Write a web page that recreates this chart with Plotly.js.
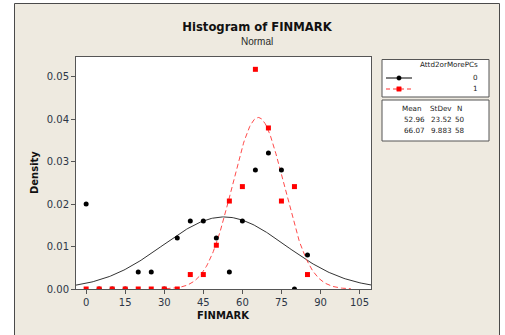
<!DOCTYPE html>
<html>
<head>
<meta charset="utf-8">
<script src="https://cdn.plot.ly/plotly-3.0.1.min.js"></script>
<style>
  html, body { margin: 0; padding: 0; background: #ffffff; }
  #chart { width: 505px; height: 335px; }
</style>
</head>
<body>
<div id="chart"></div>
<script>
// FINMARK density by bin midpoint, split by Attd2orMorePCs
const binMid = [0, 5, 10, 15, 20, 25, 30, 35, 40, 45, 50, 55, 60, 65, 70, 75, 80, 85];
const density0 = [0.020, 0, 0, 0, 0.004, 0.004, 0, 0.012, 0.016, 0.016, 0.012, 0.004, 0.016, 0.028, 0.032, 0.028, 0, 0.008];
const density1 = [0, 0, 0, 0, 0, 0, 0, 0, 0.0034, 0.0034, 0.0103, 0.0207, 0.0241, 0.0517, 0.0379, 0.0207, 0.0241, 0.0034];

// Fitted normal parameters per group
const groups = ["0", "1"];
const means = [52.96, 66.07];
const stdevs = [23.52, 9.883];
const counts = [50, 58];

const xTicks = [0, 15, 30, 45, 60, 75, 90, 105];
const yTicks = [0.00, 0.01, 0.02, 0.03, 0.04, 0.05];

const xRange = [-3.9, 109.4];
const yRange = [0, 0.0546];

// Normal density curve sampled across the axis
function normalCurve(mu, sd, lo, hi) {
  const a = Math.max(lo, mu - 3.6 * sd), b = Math.min(hi, mu + 3.6 * sd);
  const xs = [], ys = [];
  const n = 240;
  for (let i = 0; i <= n; i++) {
    const x = a + (b - a) * i / n;
    const z = (x - mu) / sd;
    xs.push(x);
    ys.push(Math.exp(-0.5 * z * z) / (sd * Math.sqrt(2 * Math.PI)));
  }
  return { x: xs, y: ys };
}

const c0 = normalCurve(means[0], stdevs[0], xRange[0], xRange[1]);
const c1 = normalCurve(means[1], stdevs[1], xRange[0], xRange[1]);

const traces = [
  { x: c0.x, y: c0.y, mode: "lines", line: { color: "#333333", width: 1 }, hoverinfo: "skip" },
  { x: c1.x, y: c1.y, mode: "lines", line: { color: "#ff4a4a", width: 1, dash: "5px,3px" }, hoverinfo: "skip" },
  { x: binMid, y: density0, mode: "markers", marker: { color: "#000000", size: 5, symbol: "circle" } },
  { x: binMid, y: density1, mode: "markers", marker: { color: "#ff0000", size: 5, symbol: "square" } }
];

// Plot-area geometry in pixels
const L = 76, T = 57, R = 134, B = 46, W = 505 - L - R, H = 335 - T - B;
const px = X => (X - L) / W;
const py = Y => (335 - B - Y) / H;

const shapes = [
  // outer frame
  { type: "rect", xref: "paper", yref: "paper", layer: "below",
    x0: px(14.5), x1: px(499.5), y0: py(340), y1: py(3.5),
    fillcolor: "#eeeae0", line: { color: "#4a4a4a", width: 1 } },
  // plot area
  { type: "rect", xref: "paper", yref: "paper", layer: "below",
    x0: 0, x1: 1, y0: 0, y1: 1, fillcolor: "#ffffff", line: { width: 0 } },
  // legend boxes
  { type: "rect", xref: "paper", yref: "paper",
    x0: px(382), x1: px(489), y0: py(97), y1: py(59.5),
    fillcolor: "#ffffff", line: { color: "#555555", width: 1 } },
  { type: "rect", xref: "paper", yref: "paper",
    x0: px(382), x1: px(489), y0: py(141), y1: py(100),
    fillcolor: "#ffffff", line: { color: "#555555", width: 1 } },
  // legend keys
  { type: "line", xref: "paper", yref: "paper",
    x0: px(386), x1: px(412), y0: py(78), y1: py(78), line: { color: "#000000", width: 1 } },
  { type: "circle", xref: "paper", yref: "paper",
    x0: px(396.8), x1: px(401.2), y0: py(80.2), y1: py(75.8),
    fillcolor: "#000000", line: { color: "#000000", width: 0.5 } },
  { type: "line", xref: "paper", yref: "paper",
    x0: px(386), x1: px(412), y0: py(89), y1: py(89), line: { color: "#ff3030", width: 1, dash: "4px,3px" } },
  { type: "rect", xref: "paper", yref: "paper",
    x0: px(396.8), x1: px(401.2), y0: py(91.2), y1: py(86.8),
    fillcolor: "#ff0000", line: { color: "#ff0000", width: 0.5 } }
];

const legFont = { family: "DejaVu Sans, sans-serif", size: 7.2, color: "#222222" };
function txt(text, X, Y, xanchor, font, extra) {
  return Object.assign({ text: text, xref: "paper", yref: "paper", x: px(X), y: py(Y),
    xanchor: xanchor, yanchor: "middle", showarrow: false, font: font }, extra || {});
}

const annotations = [
  txt("Normal", 257, 42, "center", { family: "Liberation Sans, sans-serif", size: 10, color: "#2a2a2a" }),
  txt("<b>FINMARK</b>", 223.5, 315.5, "center", { family: "DejaVu Sans, sans-serif", size: 10, color: "#111111" }),
  txt("<b>Density</b>", 34, 173, "center", { family: "DejaVu Sans, sans-serif", size: 10, color: "#111111" }, { textangle: -90 }),
  txt("Attd2orMorePCs", 480, 65, "right", legFont),
  txt(groups[0], 480, 77.7, "right", legFont),
  txt(groups[1], 480, 88.7, "right", legFont),
  txt("Mean", 412.5, 108.5, "center", legFont),
  txt("StDev", 441, 108.5, "center", legFont),
  txt("N", 459, 108.5, "center", legFont),
  txt(means[0].toFixed(2), 414, 119.5, "center", legFont),
  txt(stdevs[0].toFixed(2), 441, 119.5, "center", legFont),
  txt(String(counts[0]), 459.5, 119.5, "center", legFont),
  txt(means[1].toFixed(2), 414, 130.5, "center", legFont),
  txt(stdevs[1].toFixed(3), 441, 130.5, "center", legFont),
  txt(String(counts[1]), 459.5, 130.5, "center", legFont)
];

const tickFont = { family: "DejaVu Sans, sans-serif", size: 10, color: "#2c3646" };

const layout = {
  width: 505, height: 335,
  margin: { l: L, r: R, t: T, b: B, pad: 0 },
  paper_bgcolor: "#ffffff",
  plot_bgcolor: "rgba(0,0,0,0)",
  showlegend: false,
  title: {
    text: "<b>Histogram of FINMARK</b>",
    font: { family: "DejaVu Sans, sans-serif", size: 11.6, color: "#111111" },
    x: 257 / 505, xref: "container", xanchor: "center",
    y: (335 - 27) / 335, yref: "container", yanchor: "middle"
  },
  xaxis: {
    range: xRange, tickvals: xTicks, ticktext: xTicks.map(String),
    showgrid: false, zeroline: false,
    showline: true, linecolor: "#555555", linewidth: 1, mirror: true,
    ticks: "outside", ticklen: 4, tickcolor: "#555555",
    tickfont: tickFont
  },
  yaxis: {
    range: yRange, tickvals: yTicks, ticktext: yTicks.map(v => v.toFixed(2)),
    showgrid: false, zeroline: false,
    showline: true, linecolor: "#555555", linewidth: 1, mirror: true,
    ticks: "outside", ticklen: 4, tickcolor: "#555555",
    tickfont: tickFont
  },
  shapes: shapes,
  annotations: annotations
};

Plotly.newPlot("chart", traces, layout, { staticPlot: true, displayModeBar: false });
</script>
</body>
</html>
